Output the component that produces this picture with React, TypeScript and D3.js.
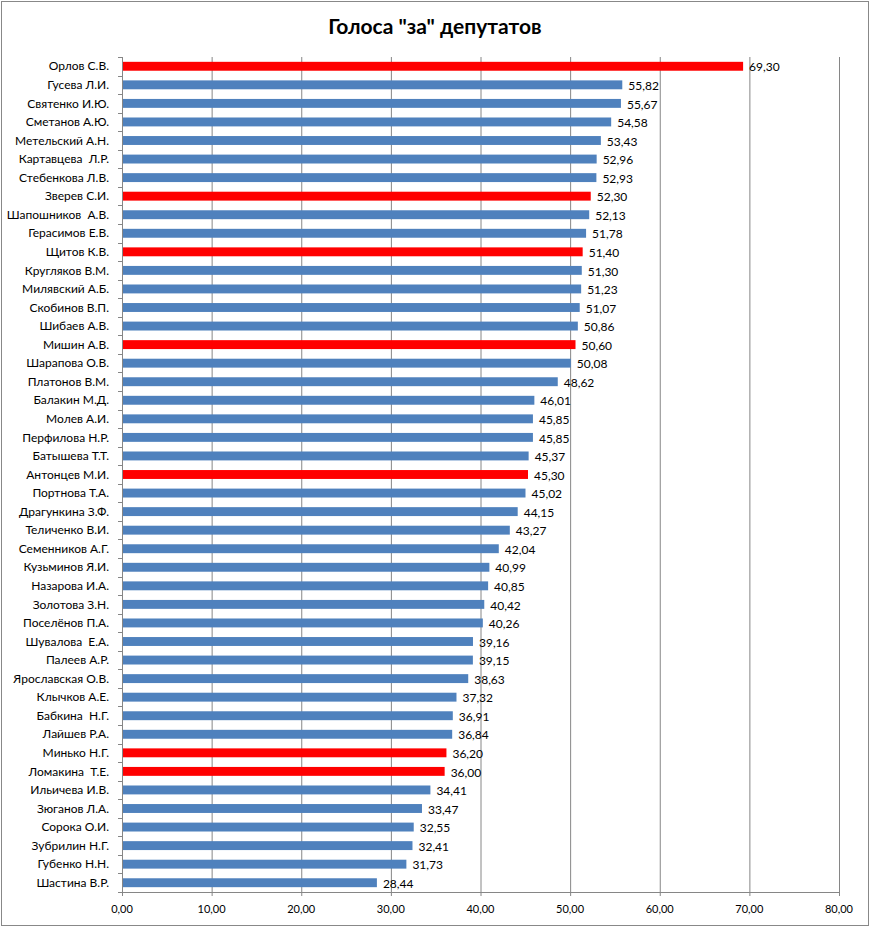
import * as d3 from 'd3';

const names = [
  'Орлов С.В.', 'Гусева Л.И.', 'Святенко И.Ю.', 'Сметанов А.Ю.', 'Метельский А.Н.',
  'Картавцева  Л.Р.', 'Стебенкова Л.В.', 'Зверев С.И.', 'Шапошников  А.В.', 'Герасимов Е.В.',
  'Щитов К.В.', 'Кругляков В.М.', 'Милявский А.Б.', 'Скобинов В.П.', 'Шибаев А.В.',
  'Мишин А.В.', 'Шарапова О.В.', 'Платонов В.М.', 'Балакин М.Д.', 'Молев А.И.',
  'Перфилова Н.Р.', 'Батышева Т.Т.', 'Антонцев М.И.', 'Портнова Т.А.', 'Драгункина З.Ф.',
  'Теличенко В.И.', 'Семенников А.Г.', 'Кузьминов Я.И.', 'Назарова И.А.', 'Золотова З.Н.',
  'Поселёнов П.А.', 'Шувалова  Е.А.', 'Палеев А.Р.', 'Ярославская О.В.', 'Клычков А.Е.',
  'Бабкина  Н.Г.', 'Лайшев Р.А.', 'Минько Н.Г.', 'Ломакина  Т.Е.', 'Ильичева И.В.',
  'Зюганов Л.А.', 'Сорока О.И.', 'Зубрилин Н.Г.', 'Губенко Н.Н.', 'Шастина В.Р.',
];

const votes = [
  69.30, 55.82, 55.67, 54.58, 53.43,
  52.96, 52.93, 52.30, 52.13, 51.78,
  51.40, 51.30, 51.23, 51.07, 50.86,
  50.60, 50.08, 48.62, 46.01, 45.85,
  45.85, 45.37, 45.30, 45.02, 44.15,
  43.27, 42.04, 40.99, 40.85, 40.42,
  40.26, 39.16, 39.15, 38.63, 37.32,
  36.91, 36.84, 36.20, 36.00, 34.41,
  33.47, 32.55, 32.41, 31.73, 28.44,
];

// highlighted (red) deputies
const highlighted = ['Орлов С.В.', 'Зверев С.И.', 'Щитов К.В.', 'Мишин А.В.', 'Антонцев М.И.', 'Минько Н.Г.', 'Ломакина  Т.Е.'];

const xTicks = [0, 10, 20, 30, 40, 50, 60, 70, 80];

const title = 'Голоса "за" депутатов';

export default function App() {
  const width = 874;
  const height = 928;
  const margin = { top: 57, right: 35, bottom: 36, left: 122 };
  const font = 'Lato, "Liberation Sans", sans-serif';
  const fmt = (v: number) => v.toFixed(2).replace('.', ',');

  const x = d3.scaleLinear().domain([0, 80]).range([margin.left, width - margin.right]);
  const y = d3
    .scaleBand<string>()
    .domain(names)
    .range([margin.top, height - margin.bottom])
    .paddingInner(0.52)
    .paddingOuter(0.26);

  const bandEdges = d3
    .range(names.length + 1)
    .map((i) => margin.top + i * ((height - margin.bottom - margin.top) / names.length));

  return (
    <svg
      width={width}
      height={height}
      style={{ position: 'absolute', left: 0, top: 0, background: '#fff' }}
    >
      <rect x={1.5} y={1.5} width={867} height={924} fill="#fff" stroke="#888" />
      <text
        x={435}
        y={34}
        textAnchor="middle"
        fontFamily={font}
        fontWeight="bold"
        fontSize={21}
        fill="#000"
      >
        {title}
      </text>

      {xTicks.map((t) => (
        <g key={t}>
          <line
            x1={x(t) + 0.5}
            x2={x(t) + 0.5}
            y1={margin.top}
            y2={height - margin.bottom + 4}
            stroke="#868686"
          />
          <text
            x={x(t)}
            y={height - margin.bottom + 21}
            textAnchor="middle"
            fontFamily={font}
            fontSize={11}
            fill="#000"
          >
            {fmt(t)}
          </text>
        </g>
      ))}

      <line
        x1={margin.left}
        x2={width - margin.right}
        y1={height - margin.bottom + 0.5}
        y2={height - margin.bottom + 0.5}
        stroke="#868686"
      />

      {bandEdges.map((e, i) => (
        <line
          key={i}
          x1={margin.left - 4}
          x2={margin.left}
          y1={Math.round(e) + 0.5}
          y2={Math.round(e) + 0.5}
          stroke="#868686"
        />
      ))}

      {names.map((n, i) => {
        const yc = (y(n) as number) + y.bandwidth() / 2;
        return (
          <g key={n}>
            <rect
              x={x(0)}
              y={y(n)}
              width={x(votes[i]) - x(0)}
              height={y.bandwidth()}
              fill={highlighted.includes(n) ? '#ff0000' : '#4f81bd'}
            />
            <text
              x={margin.left - 13}
              y={yc}
              dy="0.35em"
              textAnchor="end"
              fontFamily={font}
              fontSize={12}
              fill="#000"
              style={{ whiteSpace: 'pre' }}
            >
              {n}
            </text>
            <text
              x={x(votes[i]) + 6}
              y={yc + 1}
              dy="0.35em"
              fontFamily={font}
              fontSize={12}
              fill="#000"
            >
              {fmt(votes[i])}
            </text>
          </g>
        );
      })}

      <line
        x1={margin.left + 0.5}
        x2={margin.left + 0.5}
        y1={margin.top}
        y2={height - margin.bottom}
        stroke="#868686"
      />
    </svg>
  );
}
